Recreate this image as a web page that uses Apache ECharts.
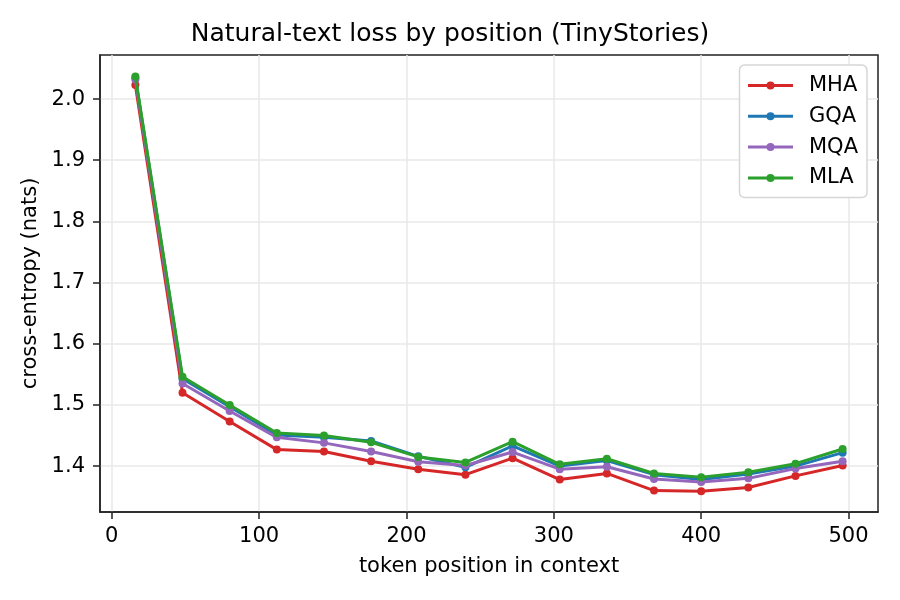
<!DOCTYPE html>
<html>
<head>
<meta charset="utf-8">
<script src="https://cdn.jsdelivr.net/npm/echarts@6/dist/echarts.min.js"></script>
<style>html,body{margin:0;padding:0;background:#fff}#c{width:900px;height:600px}</style>
</head>
<body>
<div id="c"></div>
<script>
const positions = [16, 48, 80, 112, 144, 176, 208, 240, 272, 304, 336, 368, 400, 432, 464, 496];
const mha = [2.023, 1.520, 1.473, 1.427, 1.424, 1.408, 1.395, 1.386, 1.413, 1.378, 1.388, 1.360, 1.359, 1.365, 1.384, 1.401];
const gqa = [2.035, 1.543, 1.497, 1.451, 1.447, 1.441, 1.416, 1.398, 1.433, 1.400, 1.409, 1.386, 1.378, 1.387, 1.400, 1.422];
const mqa = [2.032, 1.535, 1.490, 1.447, 1.438, 1.424, 1.407, 1.401, 1.423, 1.395, 1.399, 1.379, 1.374, 1.380, 1.396, 1.408];
const mla = [2.037, 1.546, 1.500, 1.454, 1.450, 1.439, 1.415, 1.406, 1.440, 1.403, 1.412, 1.388, 1.382, 1.390, 1.404, 1.428];
const xTicks = [0, 100, 200, 300, 400, 500];
const yTicks = [1.4, 1.5, 1.6, 1.7, 1.8, 1.9, 2.0];
const seriesNames = ['MHA', 'GQA', 'MQA', 'MLA'];
const seriesValues = [mha, gqa, mqa, mla];
const colors = ['#d62728', '#1f77b4', '#9467bd', '#2ca02c'];

const font = 'DejaVu Sans';
const chart = echarts.init(document.getElementById('c'), null, {renderer: 'canvas'});
chart.setOption({
  animation: false,
  backgroundColor: '#fff',
  title: {
    text: 'Natural-text loss by position (TinyStories)',
    left: 'center', top: 17,
    textStyle: {fontFamily: font, fontSize: 25, fontWeight: 'normal', color: '#000'}
  },
  grid: {left: 100, right: 22, top: 55, bottom: 88, show: true, borderColor: '#222', borderWidth: 1.5},
  legend: {
    orient: 'vertical', right: 33, top: 65,
    padding: [10, 9, 9, 7],
    itemGap: 9.8, itemWidth: 45, itemHeight: 10,
    backgroundColor: '#fff', borderColor: '#d6d6d6', borderWidth: 1.5, borderRadius: 5,
    lineStyle: {width: 3},
    textStyle: {fontFamily: font, fontSize: 21, color: '#000', padding: [0, 0, 0, 11]},
    data: seriesNames
  },
  xAxis: {
    type: 'value', min: -8, max: 520,
    name: 'token position in context', nameLocation: 'middle', nameGap: 44,
    nameTextStyle: {fontFamily: font, fontSize: 21, color: '#000'},
    axisLine: {onZero: false, lineStyle: {color: '#222', width: 1.5}},
    axisTick: {show: true, length: 7, inside: false, customValues: xTicks, lineStyle: {color: '#222', width: 1.5}},
    axisLabel: {customValues: xTicks, fontFamily: font, fontSize: 21, color: '#000', margin: 14},
    splitLine: {show: true, lineStyle: {color: '#e8e8e8', width: 1.5}}
  },
  yAxis: {
    type: 'value', min: 1.325, max: 2.072,
    name: 'cross-entropy (nats)', nameLocation: 'middle', nameGap: 53,
    nameTextStyle: {fontFamily: font, fontSize: 21, color: '#000'},
    axisLine: {onZero: false, show: true, lineStyle: {color: '#222', width: 1.5}},
    axisTick: {show: true, length: 7, customValues: yTicks, lineStyle: {color: '#222', width: 1.5}},
    axisLabel: {customValues: yTicks, fontFamily: font, fontSize: 21, color: '#000', margin: 15,
      formatter: v => v.toFixed(1)},
    splitLine: {show: true, lineStyle: {color: '#e8e8e8', width: 1.5}}
  },
  series: seriesNames.map((n, i) => ({
    name: n, type: 'line',
    data: positions.map((p, j) => [p, seriesValues[i][j]]),
    color: colors[i],
    symbol: 'circle', symbolSize: 8, showSymbol: true,
    lineStyle: {width: 3, color: colors[i]},
    itemStyle: {color: colors[i]},
    z: 2 + i
  }))
});
</script>
</body>
</html>
